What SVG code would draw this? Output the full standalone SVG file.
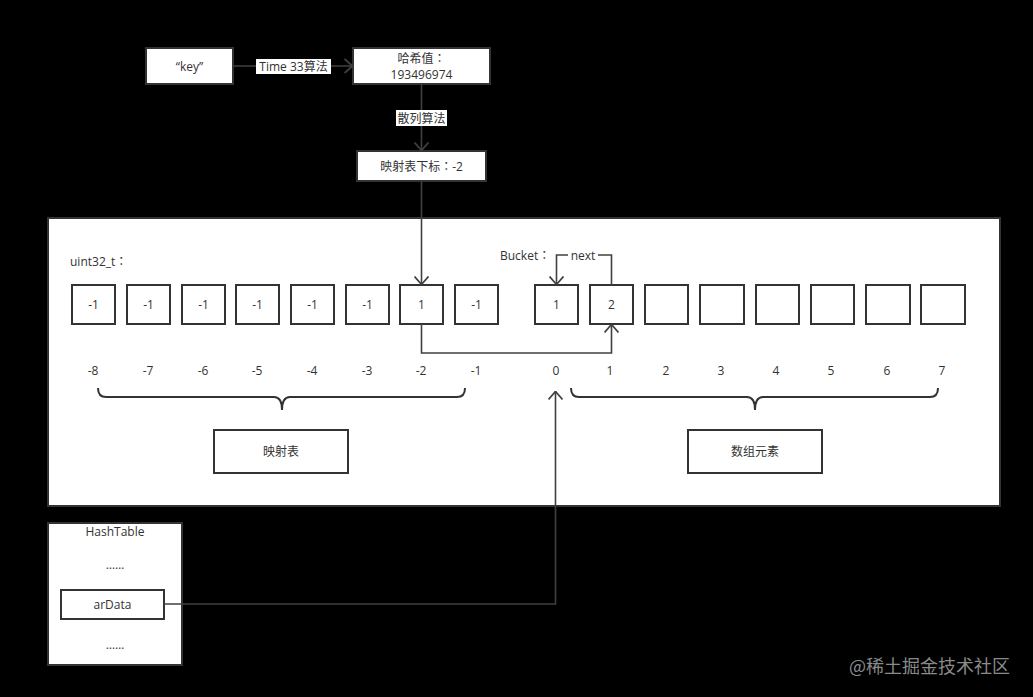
<svg xmlns="http://www.w3.org/2000/svg" width="1033" height="697" viewBox="0 0 1033 697">
<style>
.box{fill:#fff;stroke:#333;stroke-width:2}
.t{font-family:"Open Sans","Noto Sans CJK SC",sans-serif;font-size:12px;fill:#333;text-anchor:middle;dominant-baseline:central}
.tl{font-family:"Open Sans","Noto Sans CJK SC",sans-serif;font-size:12px;fill:#333;dominant-baseline:central}
.colon{font-family:"Open Sans","Noto Sans CJK TC",sans-serif}
.c{fill:none;stroke:#404040;stroke-width:1.6}
.lbg{fill:#fff}
</style>
<defs>
<marker id="arr" viewBox="0 0 10 16" refX="9.5" refY="8" markerWidth="10" markerHeight="16" orient="auto" markerUnits="userSpaceOnUse">
<path d="M1,1 L9,8 L1,15" fill="none" stroke="#404040" stroke-width="1.8"/>
</marker>
</defs>
<rect width="1033" height="697" fill="#000"/>

<g id="panel"><rect x="48" y="218" width="952" height="288" class="box"/></g>

<g id="key"><rect x="146" y="48" width="87" height="36" class="box"/><text x="189.5" y="66" class="t">“key”</text></g>
<g id="hash"><rect x="353" y="48" width="137" height="36" class="box"/><text x="421.5" y="58" class="t colon">哈希值：</text><text x="421.5" y="74.5" class="t" font-size="13">193496974</text></g>
<g id="mapidx"><rect x="357" y="151" width="129" height="30" class="box"/><text x="421.5" y="166" class="t colon">映射表下标：-2</text></g>

<g id="uint-label"><text x="70" y="261" class="tl colon">uint32_t：</text></g>
<g id="bucket-label"><text x="500" y="255" class="tl colon">Bucket：</text></g>

<g id="map-slots">
<rect x="72" y="285" width="43" height="39" class="box"/><text x="93.5" y="304.5" class="t">-1</text>
<rect x="127" y="285" width="43" height="39" class="box"/><text x="148.5" y="304.5" class="t">-1</text>
<rect x="182" y="285" width="43" height="39" class="box"/><text x="203.5" y="304.5" class="t">-1</text>
<rect x="236" y="285" width="43" height="39" class="box"/><text x="257.5" y="304.5" class="t">-1</text>
<rect x="291" y="285" width="43" height="39" class="box"/><text x="312.5" y="304.5" class="t">-1</text>
<rect x="346" y="285" width="43" height="39" class="box"/><text x="367.5" y="304.5" class="t">-1</text>
<rect x="400" y="285" width="43" height="39" class="box"/><text x="421.5" y="304.5" class="t">1</text>
<rect x="455" y="285" width="43" height="39" class="box"/><text x="476.5" y="304.5" class="t">-1</text>
</g>
<g id="data-slots">
<rect x="535" y="285" width="43" height="39" class="box"/><text x="556.5" y="304.5" class="t">1</text>
<rect x="590" y="285" width="43" height="39" class="box"/><text x="611.5" y="304.5" class="t">2</text>
<rect x="645" y="285" width="43" height="39" class="box"/>
<rect x="700" y="285" width="44" height="39" class="box"/>
<rect x="756" y="285" width="43" height="39" class="box"/>
<rect x="811" y="285" width="43" height="39" class="box"/>
<rect x="866" y="285" width="44" height="39" class="box"/>
<rect x="921" y="285" width="44" height="39" class="box"/>
</g>

<g id="indices">
<text x="93" y="370" class="t">-8</text><text x="148" y="370" class="t">-7</text><text x="203" y="370" class="t">-6</text><text x="257" y="370" class="t">-5</text>
<text x="312" y="370" class="t">-4</text><text x="367" y="370" class="t">-3</text><text x="421" y="370" class="t">-2</text><text x="476" y="370" class="t">-1</text>
<text x="556" y="370" class="t">0</text><text x="610" y="370" class="t">1</text><text x="666" y="370" class="t">2</text><text x="721" y="370" class="t">3</text>
<text x="776" y="370" class="t">4</text><text x="831" y="370" class="t">5</text><text x="887" y="370" class="t">6</text><text x="942" y="370" class="t">7</text>
</g>

<g id="braces" fill="none" stroke="#333" stroke-width="2">
<path d="M98,388 Q98,397 106,397 L274,397 Q282,397 282,410 Q282,397 290,397 L457,397 Q465,397 465,388"/>
<path d="M571,388 Q571,397 579,397 L747,397 Q755,397 755,410 Q755,397 763,397 L930,397 Q938,397 938,388"/>
</g>

<g id="maptable"><rect x="214" y="430" width="134" height="43" class="box"/><text x="281" y="451.5" class="t">映射表</text></g>
<g id="dataelems"><rect x="688" y="430" width="134" height="43" class="box"/><text x="755" y="451.5" class="t">数组元素</text></g>

<g id="hashtable"><rect x="48" y="523" width="134" height="142" class="box"/>
<text x="115" y="531" class="t">HashTable</text>
<text x="115" y="564" class="t">……</text>
<text x="115" y="644" class="t">……</text>
</g>
<g id="ardata"><rect x="61" y="590" width="103" height="29" class="box"/><text x="112.5" y="604.5" class="t">arData</text></g>

<g id="connectors">
<path d="M233,66 L353,66" class="c" marker-end="url(#arr)"/>
<rect x="256" y="59" width="75" height="15" class="lbg"/>
<text x="293.5" y="66.5" class="t">Time 33算法</text>
<path d="M421.5,84 L421.5,151" class="c" marker-end="url(#arr)"/>
<rect x="396" y="110" width="51" height="16" class="lbg"/>
<text x="421.5" y="118" class="t">散列算法</text>
<path d="M421.5,181 L421.5,285" class="c" marker-end="url(#arr)"/>
<path d="M421.5,324 L421.5,353 L611.5,353 L611.5,324" class="c" marker-end="url(#arr)"/>
<path d="M611.5,285 L611.5,255 L556.5,255 L556.5,285" class="c" marker-end="url(#arr)"/>
<rect x="568" y="248" width="30" height="14" class="lbg"/>
<text x="583" y="255" class="t">next</text>
<path d="M164,604 L555.5,604 L555.5,391" class="c" marker-end="url(#arr)"/>
</g>

<text x="1010" y="665" font-family="'Noto Sans CJK SC',sans-serif" font-size="18" fill="#8a8a8a" text-anchor="end" dominant-baseline="central">@稀土掘金技术社区</text>
</svg>
